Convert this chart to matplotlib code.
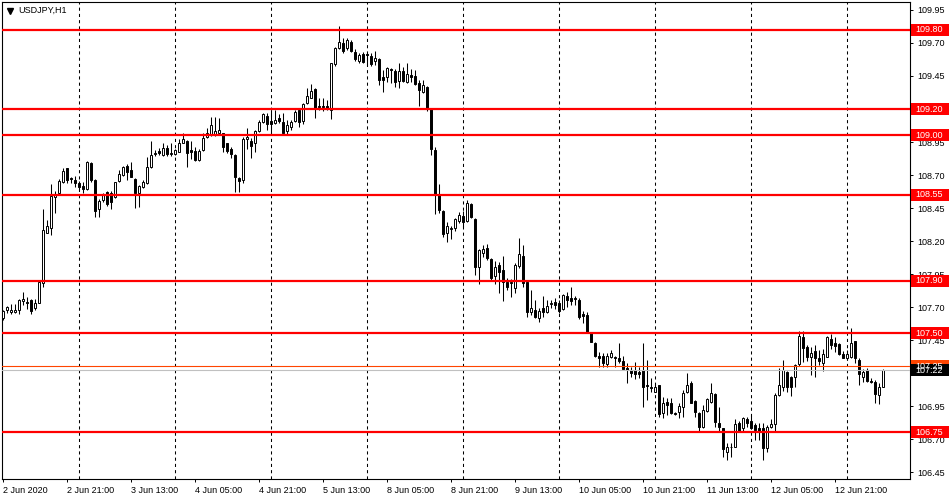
# %% imports
import numpy as np
import matplotlib.pyplot as plt
from matplotlib.patches import Rectangle
from matplotlib.transforms import blended_transform_factory

plt.rcParams['font.family'] = ['Liberation Sans', 'DejaVu Sans']

# %% data: USDJPY H1 bars, 2 Jun 05:00 .. 15 Jun 09:00
opens = [
    107.614, 107.677, 107.665, 107.660, 107.677, 107.748, 107.741, 107.753, 107.690, 107.733,
    107.879, 108.263, 108.296, 108.531, 108.566, 108.644, 108.751, 108.675, 108.662, 108.637,
    108.617, 108.597, 108.793, 108.662, 108.440, 108.511, 108.574, 108.566, 108.536, 108.655,
    108.700, 108.768, 108.738, 108.667, 108.566, 108.607, 108.637, 108.763, 108.857, 108.882,
    108.852, 108.907, 108.857, 108.857, 108.877, 108.945, 108.958, 108.889, 108.882, 108.814,
    108.889, 108.985, 109.003, 109.006, 109.016, 109.016, 108.940, 108.895, 108.852, 108.680,
    108.662, 108.970, 108.960, 108.940, 109.033, 109.104, 109.150, 109.109, 109.097, 109.129,
    109.099, 109.033, 109.066, 109.109, 109.193, 109.109, 109.248, 109.286, 109.352, 109.225,
    109.223, 109.225, 109.193, 109.538, 109.665, 109.698, 109.660, 109.705, 109.634, 109.566,
    109.617, 109.617, 109.602, 109.566, 109.576, 109.440, 109.440, 109.503, 109.491, 109.415,
    109.488, 109.407, 109.458, 109.450, 109.394, 109.331, 109.369, 109.197, 108.890, 108.549,
    108.427, 108.258, 108.291, 108.296, 108.352, 108.389, 108.354, 108.480, 108.364, 108.001,
    108.112, 108.145, 108.064, 107.937, 108.018, 107.980, 107.892, 107.879, 107.842, 108.011,
    108.087, 107.892, 107.660, 107.677, 107.614, 107.690, 107.665, 107.720, 107.736, 107.728,
    107.682, 107.784, 107.766, 107.766, 107.753, 107.647, 107.640, 107.506, 107.425, 107.331,
    107.329, 107.266, 107.319, 107.324, 107.311, 107.291, 107.236, 107.223, 107.223, 107.208,
    107.223, 107.109, 107.097, 107.059, 107.109, 106.895, 106.983, 106.970, 106.900, 106.907,
    106.940, 107.059, 107.127, 106.988, 106.900, 106.794, 106.915, 106.983, 107.041, 106.819,
    106.781, 106.604, 106.637, 106.642, 106.819, 106.781, 106.852, 106.836, 106.806, 106.786,
    106.781, 106.629, 106.789, 106.814, 107.033, 107.097, 107.205, 107.172, 107.172, 107.266,
    107.470, 107.395, 107.319, 107.367, 107.316, 107.273, 107.324, 107.455, 107.425, 107.420,
    107.341, 107.311, 107.319, 107.442, 107.299, 107.172, 107.223, 107.142, 107.135, 107.033,
    107.097,
]
highs = [
    107.677, 107.710, 107.720, 107.720, 107.761, 107.811, 107.778, 107.758, 107.758, 107.892,
    108.440, 108.359, 108.632, 108.581, 108.667, 108.751, 108.755, 108.687, 108.692, 108.655,
    108.650, 108.809, 108.801, 108.667, 108.516, 108.561, 108.581, 108.579, 108.650, 108.738,
    108.768, 108.781, 108.801, 108.675, 108.624, 108.662, 108.839, 108.958, 108.889, 108.902,
    108.940, 108.927, 108.940, 108.894, 108.970, 109.016, 108.965, 108.960, 108.915, 108.894,
    109.016, 109.059, 109.137, 109.137, 109.129, 109.020, 108.945, 108.915, 108.857, 108.687,
    108.985, 109.054, 108.978, 109.041, 109.117, 109.167, 109.167, 109.193, 109.193, 109.162,
    109.167, 109.117, 109.117, 109.193, 109.197, 109.243, 109.362, 109.387, 109.357, 109.281,
    109.281, 109.268, 109.551, 109.672, 109.829, 109.735, 109.735, 109.723, 109.652, 109.627,
    109.634, 109.622, 109.627, 109.639, 109.584, 109.496, 109.521, 109.513, 109.501, 109.546,
    109.521, 109.551, 109.501, 109.496, 109.420, 109.420, 109.374, 109.205, 108.915, 108.629,
    108.435, 108.347, 108.314, 108.377, 108.422, 108.430, 108.511, 108.485, 108.372, 108.137,
    108.170, 108.177, 108.069, 108.049, 108.044, 108.087, 107.917, 107.910, 108.031, 108.220,
    108.170, 107.900, 107.829, 107.753, 107.690, 107.784, 107.753, 107.753, 107.766, 107.753,
    107.796, 107.816, 107.849, 107.784, 107.766, 107.670, 107.665, 107.513, 107.438, 107.362,
    107.349, 107.354, 107.374, 107.329, 107.425, 107.329, 107.273, 107.248, 107.281, 107.248,
    107.425, 107.299, 107.160, 107.122, 107.112, 107.016, 107.008, 107.008, 106.907, 106.975,
    107.071, 107.198, 107.140, 106.996, 106.907, 106.958, 107.008, 107.122, 107.046, 106.940,
    106.786, 106.667, 106.667, 106.849, 106.836, 106.869, 106.869, 106.874, 106.824, 106.819,
    106.819, 106.806, 106.849, 107.046, 107.235, 107.299, 107.215, 107.177, 107.268, 107.518,
    107.521, 107.412, 107.400, 107.412, 107.374, 107.379, 107.480, 107.495, 107.475, 107.430,
    107.369, 107.374, 107.543, 107.445, 107.311, 107.228, 107.235, 107.160, 107.147, 107.122,
    107.228,
]
lows = [
    107.602, 107.652, 107.647, 107.652, 107.647, 107.713, 107.682, 107.647, 107.677, 107.728,
    107.854, 108.258, 108.246, 108.415, 108.556, 108.637, 108.642, 108.637, 108.612, 108.587,
    108.561, 108.587, 108.650, 108.384, 108.384, 108.498, 108.465, 108.440, 108.528, 108.647,
    108.692, 108.662, 108.682, 108.448, 108.455, 108.599, 108.632, 108.751, 108.844, 108.852,
    108.844, 108.844, 108.844, 108.849, 108.874, 108.940, 108.763, 108.819, 108.809, 108.806,
    108.884, 108.978, 108.996, 108.996, 109.003, 108.877, 108.864, 108.826, 108.574, 108.574,
    108.637, 108.897, 108.826, 108.877, 109.026, 109.097, 109.041, 109.003, 109.084, 109.092,
    109.011, 109.011, 109.041, 109.104, 109.061, 109.084, 109.238, 109.281, 109.134, 109.193,
    109.188, 109.193, 109.124, 109.528, 109.655, 109.622, 109.647, 109.629, 109.566, 109.546,
    109.546, 109.533, 109.528, 109.533, 109.382, 109.331, 109.407, 109.394, 109.369, 109.362,
    109.405, 109.394, 109.407, 109.379, 109.225, 109.324, 109.188, 108.852, 108.405, 108.410,
    108.233, 108.195, 108.213, 108.278, 108.334, 108.309, 108.346, 108.372, 107.943, 107.874,
    108.081, 108.056, 107.905, 107.874, 107.809, 107.748, 107.829, 107.778, 107.804, 107.993,
    107.854, 107.627, 107.640, 107.614, 107.589, 107.627, 107.652, 107.690, 107.682, 107.652,
    107.677, 107.698, 107.715, 107.715, 107.607, 107.576, 107.501, 107.432, 107.324, 107.248,
    107.248, 107.248, 107.311, 107.248, 107.273, 107.223, 107.127, 107.172, 107.152, 107.160,
    106.945, 106.996, 107.059, 107.054, 106.869, 106.857, 106.882, 106.887, 106.882, 106.857,
    106.869, 107.046, 106.970, 106.869, 106.756, 106.781, 106.907, 106.970, 106.794, 106.756,
    106.566, 106.541, 106.566, 106.637, 106.756, 106.756, 106.794, 106.773, 106.693, 106.693,
    106.541, 106.604, 106.781, 106.763, 107.026, 107.066, 107.059, 107.026, 107.097, 107.253,
    107.286, 107.294, 107.185, 107.172, 107.261, 107.218, 107.319, 107.379, 107.357, 107.336,
    107.311, 107.299, 107.311, 107.278, 107.109, 107.135, 107.135, 107.122, 106.970, 106.965,
    107.092,
]
closes = [
    107.672, 107.703, 107.677, 107.677, 107.753, 107.758, 107.728, 107.672, 107.733, 107.887,
    108.283, 108.314, 108.541, 108.556, 108.657, 108.730, 108.662, 108.667, 108.642, 108.612,
    108.597, 108.798, 108.662, 108.427, 108.503, 108.549, 108.478, 108.498, 108.644, 108.708,
    108.763, 108.725, 108.687, 108.566, 108.617, 108.647, 108.763, 108.852, 108.869, 108.864,
    108.907, 108.857, 108.869, 108.889, 108.940, 108.970, 108.864, 108.877, 108.814, 108.882,
    108.978, 109.021, 109.079, 109.036, 109.041, 108.915, 108.884, 108.857, 108.687, 108.657,
    108.970, 108.985, 108.922, 109.033, 109.104, 109.160, 109.084, 109.084, 109.117, 109.109,
    109.016, 109.079, 109.104, 109.180, 109.104, 109.238, 109.299, 109.336, 109.210, 109.213,
    109.213, 109.197, 109.546, 109.660, 109.705, 109.642, 109.723, 109.639, 109.576, 109.609,
    109.553, 109.607, 109.541, 109.584, 109.420, 109.420, 109.508, 109.496, 109.407, 109.488,
    109.412, 109.463, 109.445, 109.387, 109.344, 109.382, 109.200, 108.895, 108.549, 108.435,
    108.251, 108.314, 108.296, 108.364, 108.397, 108.346, 108.485, 108.379, 108.006, 108.132,
    108.137, 108.069, 107.922, 108.006, 107.968, 107.892, 107.854, 107.892, 108.018, 108.099,
    107.879, 107.665, 107.690, 107.622, 107.672, 107.665, 107.708, 107.728, 107.715, 107.672,
    107.789, 107.753, 107.746, 107.758, 107.627, 107.632, 107.506, 107.438, 107.329, 107.316,
    107.279, 107.329, 107.349, 107.316, 107.291, 107.228, 107.223, 107.203, 107.190, 107.193,
    107.097, 107.102, 107.089, 107.097, 106.887, 106.970, 106.958, 106.895, 106.887, 106.950,
    107.046, 107.109, 106.975, 106.907, 106.789, 106.920, 107.003, 107.046, 106.826, 106.789,
    106.622, 106.642, 106.642, 106.811, 106.763, 106.857, 106.819, 106.786, 106.768, 106.763,
    106.629, 106.794, 106.811, 107.033, 107.109, 107.223, 107.092, 107.097, 107.261, 107.480,
    107.387, 107.324, 107.354, 107.316, 107.291, 107.344, 107.470, 107.412, 107.405, 107.344,
    107.316, 107.344, 107.425, 107.311, 107.190, 107.210, 107.142, 107.135, 107.038, 107.092,
    107.223,
]

# horizontal levels drawn on the chart
levels = [109.80, 109.20, 109.00, 108.55, 107.90, 107.50, 106.75]
ask_level = 107.25
bid_level = 107.22

# bar index of each day start (period separators) and the time axis labels
day_starts = [19, 43, 67, 91, 115, 139, 163, 187, 211]
time_labels = ['2 Jun 2020', '2 Jun 21:00', '3 Jun 13:00', '4 Jun 05:00', '4 Jun 21:00',
               '5 Jun 13:00', '8 Jun 05:00', '8 Jun 21:00', '9 Jun 13:00', '10 Jun 05:00',
               '10 Jun 21:00', '11 Jun 13:00', '12 Jun 05:00', '12 Jun 21:00']
label_step = 16

# %% plot
o = np.array(opens)
h = np.array(highs)
l = np.array(lows)
c = np.array(closes)
idx = np.arange(len(o))

W, H = 950, 500
fig = plt.figure(figsize=(W / 100, H / 100), dpi=100)
ax = fig.add_axes([2 / W, 21 / H, 908 / W, 477 / H])
ax.set_xlim(-0.25, 226.75)
ax.set_ylim(106.397, 110.0106)

# period separators
for d in day_starts:
    ax.axvline(d, color='black', lw=0.75, ls=(0, (3, 3)), zorder=1)

# candles
ax.vlines(idx, l, h, color='black', lw=0.75, zorder=2)
up = c >= o
body_lo = np.minimum(o, c)
body_hi = np.maximum(o, c)
ax.bar(idx, body_hi - body_lo, bottom=body_lo, width=0.55,
       color=np.where(up, 'white', 'black'), edgecolor='black', linewidth=0.7, zorder=3)

# levels
for lv in levels:
    ax.axhline(lv, color='#ff0000', lw=1.6, zorder=5)
ax.axhline(ask_level, color='#ff4500', lw=0.8, zorder=5)
ax.axhline(bid_level, color='#c0c0c0', lw=0.8, zorder=5)

# price axis on the right (labels hidden under a price tag are left blank)
yt = np.arange(106.45, 109.96, 0.25)
covered = [109.20, 107.20]
ax.yaxis.tick_right()
ax.set_yticks(yt)
ax.set_yticklabels(['' if any(abs(v - cv) < 1e-6 for cv in covered) else f'{v:.2f}' for v in yt])
ax.tick_params(axis='y', length=2.5, width=0.7, pad=2.5, labelsize=6.5, colors='black')

# time axis
xt = np.arange(len(time_labels)) * label_step
ax.set_xticks(xt)
ax.set_xticklabels(time_labels, ha='left')
ax.tick_params(axis='x', length=2.5, width=0.7, pad=2.5, labelsize=6.5)

for s in ax.spines.values():
    s.set_color('black')
    s.set_linewidth(0.8)

# price tags on the right axis
tr = blended_transform_factory(ax.transAxes, ax.transData)
bx0 = (911 - 2) / 908
bw = 38 / 908
bh = 12 / 132
tx = (915 - 2) / 908

def tag(level, face, text):
    ax.add_patch(Rectangle((bx0, level - bh / 2), bw, bh, transform=tr,
                           facecolor=face, edgecolor='none', clip_on=False, zorder=10))
    ax.text(tx, level, text, transform=tr, color='white', fontsize=6.5,
            ha='left', va='center', clip_on=False, zorder=11)

for lv in levels:
    tag(lv, '#ff0000', f'{lv:.2f}')
tag(ask_level, '#ff4500', f'{ask_level:.2f}')
tag(bid_level, 'black', f'{bid_level:.2f}')

# symbol caption
ax.plot([(10 - 2) / 908], [1 - (11 - 2) / 477], marker='v', ms=4.5, color='black',
        transform=ax.transAxes, clip_on=False, zorder=12)
ax.text((18 - 2) / 908, 1 - (10 - 2) / 477, 'USDJPY,H1', transform=ax.transAxes,
        fontsize=6.5, ha='left', va='center', color='black', zorder=12)

fig.savefig('out.png', dpi=100)
